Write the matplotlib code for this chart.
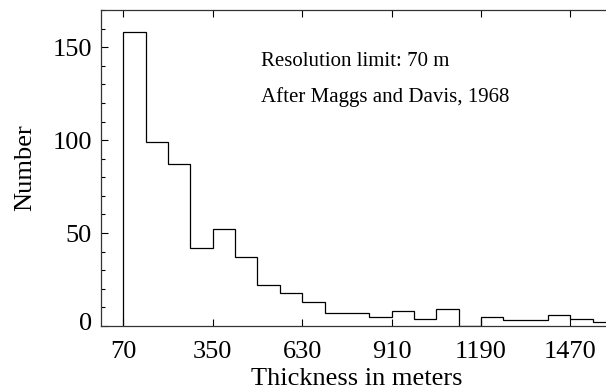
import numpy as np
import matplotlib
matplotlib.use("Agg")
import matplotlib.pyplot as plt
import matplotlib.transforms as mtransforms
from matplotlib.ticker import MultipleLocator

# thickness histogram, 70 m bins starting at the resolution limit
bin_width = 70
counts = [158, 99, 87, 42, 52, 37, 22, 18, 13, 7, 7, 5, 8, 4, 9, 0, 5, 3, 3, 6, 4, 2]
xticks = [70, 350, 630, 910, 1190, 1470]
yticks = [0, 50, 100, 150]
notes = ["Resolution limit: 70 m", "After Maggs and Davis, 1968"]

edges = bin_width * np.arange(1, len(counts) + 2)

plt.rcParams['font.family'] = ['Liberation Serif', 'DejaVu Serif']

fig = plt.figure(figsize=(6.06, 3.92), dpi=100)
ax = fig.add_axes([101 / 606, 66 / 392, 511 / 606, 316 / 392])

ax.stairs(counts, edges, baseline=0, color='black', lw=0.9)

ax.set_xlim(0, 1600)
ax.set_ylim(0, 170)
ax.set_xticks(xticks)
ax.set_yticks(yticks)
ax.yaxis.set_minor_locator(MultipleLocator(10))
ax.tick_params(direction='in', top=True, right=False, labelsize=19,
               length=5, width=0.8)
ax.tick_params(axis='x', pad=11)
ax.tick_params(axis='y', pad=6.5)
ax.tick_params(which='minor', direction='in', length=2.8, width=0.8, right=False)
for s in ax.spines.values():
    s.set_linewidth(0.9)
    s.set_color('#333333')

# the zero label sits a little above the bottom axis
lab0 = ax.get_yticklabels()[0]
lab0.set_transform(lab0.get_transform() +
                   mtransforms.ScaledTranslation(0, 4 / 100, fig.dpi_scale_trans))

ax.set_xlabel("Thickness in meters", fontsize=19, labelpad=3.5)
ax.set_ylabel("Number", fontsize=19, labelpad=11.5)

ax.text(0.313, 0.823, notes[0], transform=ax.transAxes, fontsize=15, va='baseline')
ax.text(0.313, 0.710, notes[1], transform=ax.transAxes, fontsize=15, va='baseline')

fig.savefig("out.png", dpi=100)
